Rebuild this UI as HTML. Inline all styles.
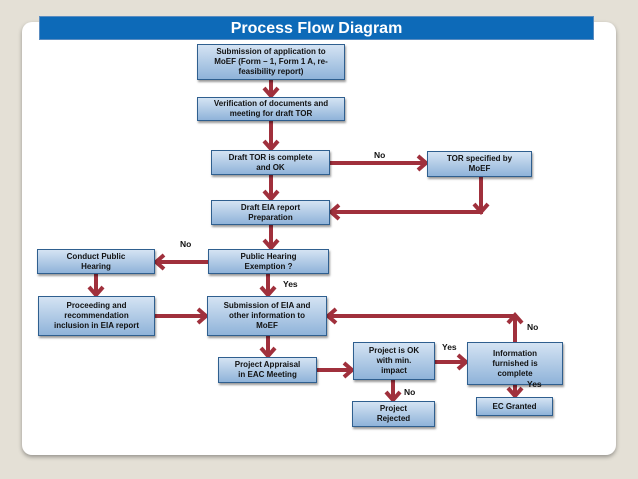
<!DOCTYPE html>
<html><head><meta charset="utf-8"><style>
body{margin:0;width:638px;height:479px;background:#e4e0d6;position:relative;overflow:hidden;font-family:"Liberation Sans",sans-serif}
.card{position:absolute;left:22px;top:22px;width:594px;height:433px;background:#fff;border-radius:10px;box-shadow:0 2px 4px rgba(0,0,0,.35)}
.bar{position:absolute;left:39px;top:16px;width:555px;height:24px;background:#0d6ab8;border:1px solid #5a8cc0;box-sizing:border-box;color:#fff;font-weight:bold;font-size:16px;line-height:23px;text-align:center}
.b{position:absolute;box-sizing:border-box;border:1px solid #2f5f8f;background:linear-gradient(#d4e3f3,#8fb3d9);box-shadow:1px 2px 2px rgba(0,0,0,.4);font-weight:bold;font-size:8px;line-height:10px;color:#111;display:flex;align-items:center;justify-content:center;text-align:center;white-space:nowrap}
.l{position:absolute;font-weight:bold;font-size:8.5px;color:#111}
svg{position:absolute;left:0;top:0}
</style></head><body>
<div class="card"></div>
<div class="bar">Process Flow Diagram</div>
<svg width="638" height="479"><g stroke="#a0303c" stroke-width="4" fill="none" stroke-linejoin="miter">
<path d="M271 80V95M264 88l7 8 7-8"/>
<path d="M271 121V148M264 141l7 8 7-8"/>
<path d="M330 163H425M418 156l8 7-8 7"/>
<path d="M481 177V212H332M339 205l-8 7 8 7M474 204l7 8 7-8"/>
<path d="M271 175V198M264 191l7 8 7-8"/>
<path d="M271 225V247M264 240l7 8 7-8"/>
<path d="M208 262H157M164 255l-8 7 8 7"/>
<path d="M96 274V294M89 287l7 8 7-8"/>
<path d="M155 316H205M198 309l8 7-8 7"/>
<path d="M268 274V294M261 287l7 8 7-8"/>
<path d="M268 336V355M261 348l7 8 7-8"/>
<path d="M317 370H351M344 363l8 7-8 7"/>
<path d="M435 362H465M458 355l8 7-8 7"/>
<path d="M515 342V316H329M336 309l-8 7 8 7M508 323l7-8 7 8"/>
<path d="M393 380V399M386 392l7 8 7-8"/>
<path d="M515 385V395M508 388l7 8 7-8"/>
</g></svg>
<div class="b" style="left:197px;top:44px;width:148px;height:36px">Submission of application to<br>MoEF (Form – 1, Form 1 A, re-<br>feasibility report)</div>
<div class="b" style="left:197px;top:97px;width:148px;height:24px">Verification of documents and<br>meeting for draft TOR</div>
<div class="b" style="left:211px;top:150px;width:119px;height:25px">Draft TOR is complete<br>and OK</div>
<div class="b" style="left:427px;top:151px;width:105px;height:26px">TOR specified by<br>MoEF</div>
<div class="b" style="left:211px;top:200px;width:119px;height:25px">Draft EIA report<br>Preparation</div>
<div class="b" style="left:208px;top:249px;width:121px;height:25px">Public Hearing<br>Exemption ?</div>
<div class="b" style="left:37px;top:249px;width:118px;height:25px">Conduct Public<br>Hearing</div>
<div class="b" style="left:38px;top:296px;width:117px;height:40px">Proceeding and<br>recommendation<br>inclusion in EIA report</div>
<div class="b" style="left:207px;top:296px;width:120px;height:40px">Submission of EIA and<br>other information to<br>MoEF</div>
<div class="b" style="left:218px;top:357px;width:99px;height:26px">Project Appraisal<br>in EAC Meeting</div>
<div class="b" style="left:353px;top:342px;width:82px;height:38px">Project is OK<br>with min.<br>impact</div>
<div class="b" style="left:467px;top:342px;width:96px;height:43px">Information<br>furnished is<br>complete</div>
<div class="b" style="left:352px;top:401px;width:83px;height:26px">Project<br>Rejected</div>
<div class="b" style="left:476px;top:397px;width:77px;height:19px">EC Granted</div>
<div class="l" style="left:374px;top:150px">No</div>
<div class="l" style="left:180px;top:239px">No</div>
<div class="l" style="left:283px;top:279px">Yes</div>
<div class="l" style="left:442px;top:342px">Yes</div>
<div class="l" style="left:527px;top:322px">No</div>
<div class="l" style="left:404px;top:387px">No</div>
<div class="l" style="left:527px;top:379px">Yes</div>
</body></html>
